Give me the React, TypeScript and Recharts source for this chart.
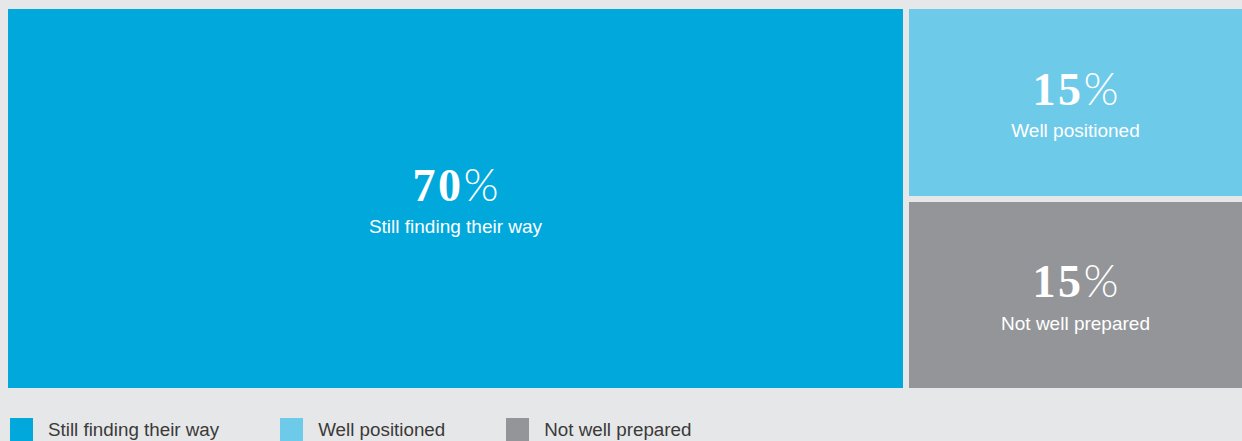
import React from "react";
import { Treemap } from "recharts";

// ---- data ----
const NAMES = ["Still finding their way", "Well positioned", "Not well prepared"];
const SHARES = [70, 15, 15];

// ---- styles ----
const COLORS = ["#00a8dc", "#6dcae9", "#939598"];
const BG = "#e6e7e8";
const LEGEND_TEXT = "#3a3a3a";

const VIEW_W = 1242;
const VIEW_H = 441;
const TM_LEFT = 5;
const TM_TOP = 6;
const TM_W = 1287;
const TM_H = 385;
const GAP = 3;

const treeData = NAMES.map((name, i) => ({ name, value: SHARES[i] }));

function CellContent(props: any) {
  const { x, y, width, height, depth, name, value } = props;
  if (depth !== 1) return <g />;
  const rx = x + GAP;
  const ry = y + GAP;
  const rw = width - 2 * GAP;
  const rh = height - 2 * GAP;
  const visRight = Math.min(rx + rw, VIEW_W - TM_LEFT);
  const cx = (rx + visRight) / 2;
  const cy = ry + rh / 2;
  const color = COLORS[NAMES.indexOf(name)] ?? COLORS[0];
  return (
    <g>
      <rect x={rx} y={ry} width={rw} height={rh} fill={color} stroke="none" />
      <text x={cx} y={cy + 2} textAnchor="middle" fill="#ffffff">
        <tspan fontFamily="'Liberation Serif', 'DejaVu Serif', serif" fontWeight={700} fontSize={46} letterSpacing={2.5}>
          {value}
        </tspan>
        <tspan fontFamily="Lato, 'Open Sans', sans-serif" fontWeight={300} fontSize={45}>
          %
        </tspan>
      </text>
      <text
        x={cx}
        y={cy + 34.5}
        textAnchor="middle"
        fill="#ffffff"
        fontFamily="'Liberation Sans', Arial, sans-serif"
        fontSize={19}
      >
        {name}
      </text>
    </g>
  );
}

export default function App() {
  return (
    <>
      <style>{`html,body{margin:0;padding:0;background:${BG};overflow:hidden;}`}</style>
      <div
        style={{
          position: "relative",
          width: VIEW_W,
          height: VIEW_H,
          overflow: "hidden",
          background: BG,
        }}
      >
        <div style={{ position: "absolute", left: TM_LEFT, top: TM_TOP }}>
          <Treemap
            width={TM_W}
            height={TM_H}
            data={treeData}
            dataKey="value"
            isAnimationActive={false}
            content={<CellContent />}
          />
        </div>
        <div
          style={{
            position: "absolute",
            left: 10,
            top: 418,
            display: "flex",
            alignItems: "flex-start",
            fontFamily: "'Liberation Sans', Arial, sans-serif",
            fontSize: 18.8,
            lineHeight: "23px",
            color: LEGEND_TEXT,
            whiteSpace: "nowrap",
          }}
        >
          {NAMES.map((name, i) => (
            <div key={name} style={{ display: "flex", alignItems: "flex-start", marginRight: 61 }}>
              <div style={{ width: 23, height: 23, background: COLORS[i], marginRight: 15 }} />
              <span>{name}</span>
            </div>
          ))}
        </div>
      </div>
    </>
  );
}
